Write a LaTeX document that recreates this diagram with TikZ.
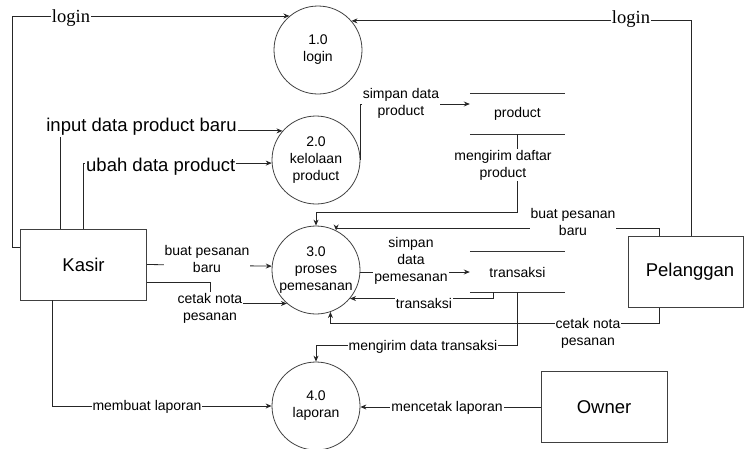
\documentclass[tikz,border=0pt]{standalone}
\usepackage{fontspec}
\setmainfont{Liberation Sans}
\newfontfamily\loginfont{Liberation Serif}
\usetikzlibrary{arrows.meta}

\begin{document}
\begin{tikzpicture}[x=1pt, y=-1pt,
  every node/.style={inner sep=0pt},
  process/.style={circle, draw=black!75, line width=0.8pt, minimum size=88pt,
    inner sep=-4pt, align=center, font=\fontsize{14}{17}\selectfont},
  entity/.style={draw=black!75, line width=0.8pt, minimum width=126pt,
    minimum height=71pt, font=\fontsize{18.5}{22}\selectfont},
  store/.style={minimum width=95pt, minimum height=40pt,
    font=\fontsize{14}{17}\selectfont},
  storeline/.style={draw=black!80, line width=0.8pt},
  flow/.style={draw=black!85, line width=0.8pt, -{Stealth[length=6pt,width=5pt]}},
  lbl/.style={fill=white, inner sep=1pt, align=center, font=\fontsize{14}{17}\selectfont},
  biglbl/.style={fill=white, inner sep=1pt, font=\fontsize{18.5}{22}\selectfont},
  loginlbl/.style={fill=white, inner sep=1pt, font=\loginfont\fontsize{18.5}{22}\selectfont},
]
\useasboundingbox (0,0) rectangle (745,448);

% processes
\node[process] (c1) at (318,50)  {1.0\\login};
\node[process] (c2) at (316,160) {2.0\\kelolaan\\product};
\node[process] (c3) at (316,270) {3.0\\proses\\pemesanan};
\node[process] (c4) at (316,406) {4.0\\laporan};

% external entities
\node[entity] (kasir) at (83.5,264.5) {Kasir};
\node[entity, minimum width=115pt] (pel) at (685.5,272) {\hspace*{9pt}Pelanggan};
\node[entity] (owner) at (604,407)    {Owner};

% data stores
\node[store] (prod)  at (517.5,114) {product};
\node[store] (trans) at (517.5,272) {transaksi};
\draw[storeline] (prod.north west) -- (prod.north east)
                 (prod.south west) -- (prod.south east);
\draw[storeline] (trans.north west) -- (trans.north east)
                 (trans.south west) -- (trans.south east);

% data flows
\draw[flow] ([yshift=17.5pt]kasir.west) -- ++(-8,0) |- (c1.130);
\draw[flow] ([xshift=5.5pt]pel.north) |- (c1.41);
\draw[flow] ([xshift=-23.5pt]kasir.north) |- (c2.139);
\draw[flow] (kasir.north) |- (c2.184);
\draw[flow] (c2.east) |- ([yshift=10pt]prod.west);
\draw[flow] (prod.south) -- ++(0,78) -| (c3.north);
\draw[flow] ([xshift=-26.5pt]pel.north) -- ++(0,-8) -| (c3.63);
\draw[flow] (kasir.east) -- (c3.175);
\draw[flow] ([yshift=-17.5pt]kasir.east) -- ++(63,0) |- (c3.229);
\draw[flow] (c3.east |- trans.west) -- (trans.west);
\draw[flow] ([xshift=-24.5pt]trans.south) |- (c3.320);
\draw[flow] ([xshift=-26.5pt]pel.south) -- ++(0,15) -| (c3.289);
\draw[flow] (trans.south) -- ++(0,53) -| (c4.north);
\draw[flow] ([xshift=-31.5pt]kasir.south) |- (c4.west);
\draw[flow] (owner.west) -- (owner.west -| c4.east);

% flow labels
\node[loginlbl] at (71,18)  {login};
\node[loginlbl] at (631,19) {login};
\node[biglbl] at (141.5,127) {input data product baru};
\node[biglbl, anchor=west] at (85,167) {ubah data product};
\node[lbl] at (401,103) {simpan data\\product};
\node[lbl] at (503,165) {mengirim daftar\\product};
\node[lbl] at (573,222) {buat pesanan\\baru};
\node[lbl] at (207,259) {buat pesanan\\baru};
\node[lbl] at (210,308) {cetak nota\\pesanan};
\node[lbl] at (411,261) {simpan\\data\\pemesanan};
\node[lbl] at (424,303) {transaksi};
\node[lbl] at (588,333) {cetak nota\\pesanan};
\node[lbl] at (423,347) {mengirim data transaksi};
\node[lbl] at (147,407) {membuat laporan};
\node[lbl] at (447,408) {mencetak laporan};
\end{tikzpicture}
\end{document}
